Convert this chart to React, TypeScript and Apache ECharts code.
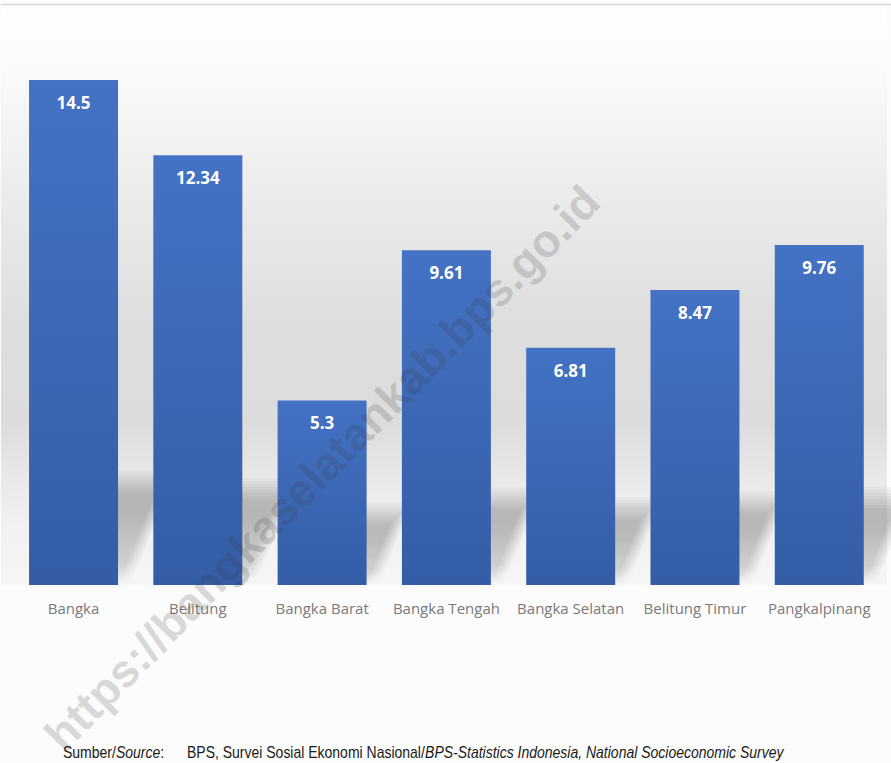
import React, { useEffect, useRef } from "react";
import * as echarts from "echarts";

const categories = [
  "Bangka",
  "Belitung",
  "Bangka Barat",
  "Bangka Tengah",
  "Bangka Selatan",
  "Belitung Timur",
  "Pangkalpinang",
];
const values = [14.5, 12.34, 5.3, 9.61, 6.81, 8.47, 9.76];
const yMax = 16;
const watermark = "https://bangkaselatankab.bps.go.id";
const sourceLabel = ["Sumber/", "Source", ":"];
const sourceText = [
  "BPS, Survei Sosial Ekonomi Nasional/",
  "BPS-Statistics Indonesia, National Socioeconomic Survey",
];

const srcFont = "'Liberation Sans', Arial, sans-serif";

export default function App() {
  const ref = useRef<HTMLDivElement>(null);
  useEffect(() => {
    if (!ref.current) return;
    const chart = echarts.init(ref.current, null, { renderer: "svg" });
    const barRatio = 0.716;
    const option: any = {
      animation: false,
      backgroundColor: "#fcfcfc",
      grid: { left: 11.4, right: 9.6, top: 27.7, bottom: 178, containLabel: false },
      xAxis: {
        type: "category",
        data: categories,
        axisLine: { show: false },
        axisTick: { show: false },
        axisLabel: {
          color: "#7a7a7a",
          fontSize: 15,
          fontFamily: "Open Sans, Noto Sans, sans-serif",
          margin: 15,
          interval: 0,
        },
      },
      yAxis: {
        type: "value",
        min: 0,
        max: yMax,
        show: false,
        splitLine: { show: false },
      },
      graphic: [
        {
          type: "rect",
          z: -10,
          silent: true,
          shape: { x: 1, y: 4, width: 886, height: 581 },
          style: {
            fill: new echarts.graphic.LinearGradient(0, 0, 0, 1, [
              { offset: 0, color: "#ffffff" },
              { offset: 0.12, color: "#fafafa" },
              { offset: 0.35, color: "#eaeaea" },
              { offset: 0.55, color: "#dedede" },
              { offset: 0.72, color: "#dcdcdc" },
              { offset: 0.82, color: "#e9e9e9" },
              { offset: 0.9, color: "#f1f1f1" },
              { offset: 1, color: "#f6f6f6" },
            ]),
          },
        },
        {
          type: "line",
          z: -5,
          silent: true,
          shape: { x1: 1, y1: 4.5, x2: 891, y2: 4.5 },
          style: { stroke: "#d6d6d6", lineWidth: 1.5 },
        },
        {
          type: "text",
          z: 100,
          silent: true,
          x: 322,
          y: 468,
          rotation: Math.PI / 4 + 0.01,
          style: {
            text: watermark,
            font: "bold 46px 'Liberation Sans', Arial, sans-serif",
            fill: "rgba(60,60,60,0.21)",
            align: "center",
            verticalAlign: "middle",
          },
        },
        {
          type: "text",
          z: 100,
          silent: true,
          x: 63,
          y: 752,
          scaleX: 0.875,
          style: {
            text: `{n|${sourceLabel[0]}}{i|${sourceLabel[1]}}{n|${sourceLabel[2]}}`,
            verticalAlign: "middle",
            rich: {
              n: { fontFamily: srcFont, fontSize: 16, fill: "#1a1a1a" },
              i: { fontFamily: srcFont, fontSize: 16, fontStyle: "italic", fill: "#1a1a1a" },
            },
          },
        },
        {
          type: "text",
          z: 100,
          silent: true,
          x: 187,
          y: 752,
          scaleX: 0.875,
          style: {
            text: `{n|${sourceText[0]}}{i|${sourceText[1]}}`,
            verticalAlign: "middle",
            rich: {
              n: { fontFamily: srcFont, fontSize: 16, fill: "#1a1a1a" },
              i: { fontFamily: srcFont, fontSize: 16, fontStyle: "italic", fill: "#1a1a1a" },
            },
          },
        },
      ],
      series: [
        {
          type: "custom",
          z: 1,
          silent: true,
          data: values.map((v, i) => [i, v]),
          renderItem: (params: any, api: any) => {
            const idx = api.value(0);
            const val = api.value(1);
            const base = api.coord([idx, 0]);
            const top = api.coord([idx, val]);
            const bw = api.size([1, 0])[0] * barRatio;
            const x0 = base[0] - bw / 2;
            const x1 = base[0] + bw / 2;
            const h = base[1] - top[1];
            const sh = 50 + 0.1 * h;
            const dx = sh * 0.45;
            const y0 = base[1];
            const grows = [14, 11, 8, 5, 2, -1, -4, -7];
            return {
              type: "group",
              children: grows.map((g) => ({
                type: "polygon",
                shape: {
                  points: [
                    [x0 + 6 + g * 0.3, y0],
                    [x1 + 4 + g * 0.6, y0],
                    [x1 + dx + g, y0 - sh - g],
                    [x0 + dx - g, y0 - sh - g],
                  ],
                },
                style: {
                  fill: new echarts.graphic.LinearGradient(0, 0, 0, 1, [
                    { offset: 0, color: "rgba(0,0,0,0.03)" },
                    { offset: 0.3, color: "rgba(0,0,0,0.035)" },
                    { offset: 0.8, color: "rgba(0,0,0,0.02)" },
                    { offset: 1, color: "rgba(0,0,0,0)" },
                  ]),
                },
              })),
            };
          },
        },
        {
          type: "bar",
          z: 2,
          data: values,
          barCategoryGap: "28.4%",
          itemStyle: {
            color: new echarts.graphic.LinearGradient(0, 0, 0, 1, [
              { offset: 0, color: "#4472c4" },
              { offset: 1, color: "#345da6" },
            ]),
          },
          label: {
            show: true,
            position: "insideTop",
            distance: 14,
            color: "#ffffff",
            fontSize: 17,
            fontWeight: "bold",
            fontFamily: "Open Sans, Noto Sans, sans-serif",
            formatter: (p: any) => String(p.value),
          },
        },
      ],
    };
    chart.setOption(option);
    return () => chart.dispose();
  }, []);
  return (
    <div
      ref={ref}
      style={{ position: "fixed", left: 0, top: 0, width: 891, height: 763 }}
    />
  );
}
